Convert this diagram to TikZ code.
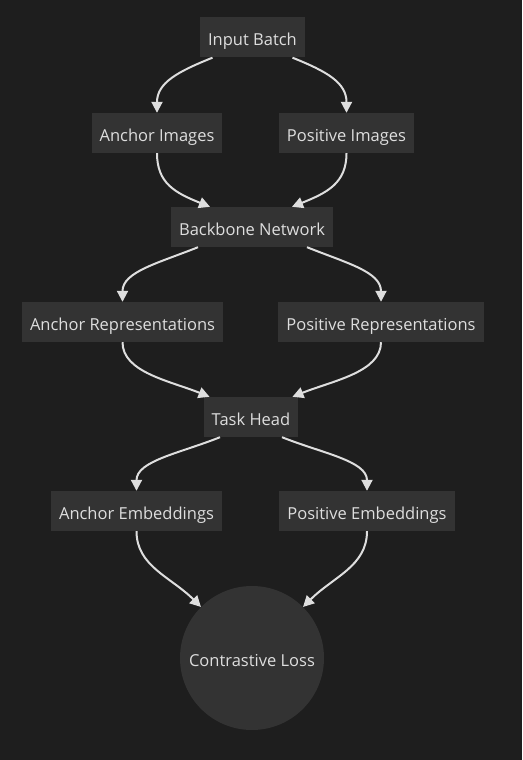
\documentclass[tikz,border=0pt]{standalone}
\usepackage{fontspec}
\setmainfont{Open Sans}
\usetikzlibrary{arrows.meta}
\definecolor{bgcol}{RGB}{30,30,30}
\definecolor{boxcol}{RGB}{51,51,51}
\definecolor{inkcol}{RGB}{222,222,222}
\tikzset{
  stage/.style={rectangle, fill=boxcol, text=inkcol, inner xsep=8pt, minimum height=40pt,
    text height=17pt, text depth=0pt, font=\fontsize{16.5}{19}\selectfont},
  lossnode/.style={circle, fill=boxcol, text=inkcol, minimum size=144pt, inner sep=0pt,
    text height=17pt, text depth=0pt, font=\fontsize{16.5}{19}\selectfont},
  flow/.style={draw=inkcol, line width=2pt, -{Triangle[length=11pt,width=11pt]}}
}
\begin{document}
\begin{tikzpicture}[x=1pt,y=-1pt]
\fill[bgcol] (0,0) rectangle (522,760);
\useasboundingbox (0,0) rectangle (522,760);
% nodes
\node[stage] (inb) at (252.5,37.5) {Input Batch};
\node[stage] (ancimg) at (157,133) {Anchor Images};
\node[stage] (posimg) at (346.5,133) {Positive Images};
\node[stage] (backbone) at (252,227) {Backbone Network};
\node[stage] (ancrep) at (122.5,322) {Anchor Representations};
\node[stage] (posrep) at (381,322) {Positive Representations};
\node[stage] (head) at (251,417) {Task Head};
\node[stage] (ancemb) at (136.5,511) {Anchor Embeddings};
\node[stage] (posemb) at (367,511) {Positive Embeddings};
\node[lossnode] (loss) at (252,658) {Contrastive Loss};
% edges
\draw[flow] ([xshift=-40pt]inb.south) .. controls +(-35,14) and +(0,-30) .. (ancimg.north);
\draw[flow] ([xshift=40pt]inb.south) .. controls +(35,14) and +(0,-30) .. (posimg.north);
\draw[flow] (ancimg.south) .. controls +(0,30) and +(-35,-14) .. ([xshift=-42pt]backbone.north);
\draw[flow] (posimg.south) .. controls +(0,30) and +(35,-14) .. ([xshift=40pt]backbone.north);
\draw[flow] ([xshift=-54pt]backbone.south) .. controls +(-40,16) and +(0,-30) .. (ancrep.north);
\draw[flow] ([xshift=55pt]backbone.south) .. controls +(40,16) and +(0,-30) .. (posrep.north);
\draw[flow] (ancrep.south) .. controls +(0,30) and +(-40,-16) .. ([xshift=6pt]head.north west);
\draw[flow] (posrep.south) .. controls +(0,30) and +(40,-16) .. ([xshift=-6pt]head.north east);
\draw[flow] ([xshift=-31pt]head.south) .. controls +(-40,16) and +(0,-30) .. (ancemb.north);
\draw[flow] ([xshift=31pt]head.south) .. controls +(40,16) and +(0,-30) .. (posemb.north);
\draw[flow] (ancemb.south) .. controls +(0,35) and +(-30,-30) .. (loss.135);
\draw[flow] (posemb.south) .. controls +(0,35) and +(30,-30) .. (loss.45);
\end{tikzpicture}
\end{document}
